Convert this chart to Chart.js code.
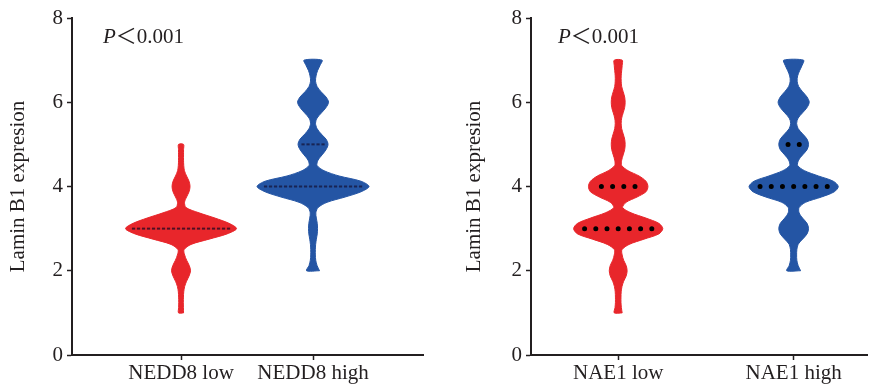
<!DOCTYPE html>
<html>
<head>
<meta charset="utf-8">
<script src="https://cdn.jsdelivr.net/npm/chart.js@4/dist/chart.umd.min.js"></script>
<style>
  html, body { margin: 0; padding: 0; background: #fff; }
  #wrap { position: relative; width: 873px; height: 390px; }
  .box { position: absolute; top: 0; height: 390px; }
</style>
</head>
<body>
<div id="wrap">
  <div class="box" style="left:0;width:440px"><canvas id="chartA"></canvas></div>
  <div class="box" style="left:440px;width:433px"><canvas id="chartB"></canvas></div>
</div>
<script>
// categories and ticks
const categoriesA = ['NEDD8 low', 'NEDD8 high'];
const categoriesB = ['NAE1 low', 'NAE1 high'];
const yTicks = [0, 2, 4, 6, 8];
const yTitle = 'Lamin B1 expresion';

// violin densities (half width), one value every 0.125 from the lowest value
const step = 0.125;
const nedd8LowFrom = 1;
const nedd8Low = [2.5, 2.4, 2.3, 2.4, 2.7, 3.6, 5.5, 8, 9.5, 8.2, 5.6, 3.6, 3,
  10, 28, 46, 55.5, 48, 34, 18, 5, 3.5, 5.5, 8, 9, 8, 5.5, 3.4, 2.7,
  2.5, 2.5, 2.5, 2.5];
const nedd8HighFrom = 2;
const nedd8High = [6.5, 4, 2.7, 2.3, 2.3, 2.6, 3.3, 4.2, 4.5, 4.2, 3.3, 2.8, 5,
  14, 32, 48, 56, 48, 26, 11, 4, 5, 9, 13, 15, 13, 8, 4, 2.5,
  4, 8.5, 13, 15.5, 13, 8, 4, 2.5, 3, 4.5, 7, 9];
const nae1LowFrom = 1;
const nae1Low = [4, 3.2, 2.8, 2.8, 3, 3.8, 5.5, 8, 9, 8, 5.5, 4, 3.8,
  11, 26, 41, 45, 41, 28, 13, 4.5, 8, 19, 28, 30, 28, 21, 10, 3.5,
  3.5, 5, 6.5, 7, 6.5, 5, 3.5, 3, 3.5, 5, 6.5, 7, 6.5, 5, 3.5, 3,
  3, 3.5, 4, 4];
const nae1HighFrom = 2;
const nae1High = [7, 4.5, 3.2, 3, 3.2, 4.5, 9, 13.5, 15, 13.5, 9, 5.5, 5.5,
  12, 28, 41, 45, 40, 25, 11, 4, 5, 9, 13.5, 15, 13.5, 9, 4.5, 3,
  4.5, 9, 13.5, 15.7, 13.5, 9, 5, 3.5, 4, 6, 8.5, 10];

// stacked sample points
const nedd8LowDotValues = [3];
const nedd8LowDotCounts = [20];
const nedd8HighDotValues = [4, 5];
const nedd8HighDotCounts = [20, 5];
const nae1LowDotValues = [3, 4];
const nae1LowDotCounts = [7, 4];
const nae1HighDotValues = [4, 5];
const nae1HighDotCounts = [7, 2];

const red = '#e8262b';
const blue = '#2455a4';
const ink = '#231f20';
const serif = '"Liberation Serif", "Times New Roman", serif';

function violinPoints(dens, from, center, k) {
  const right = dens.map((d, i) => ({ x: center + d * k, y: from + i * step }));
  const left = dens.map((d, i) => ({ x: center - d * k, y: from + i * step })).reverse();
  return right.concat(left, [right[0]]);
}

function dotPoints(values, counts, center, gap) {
  const pts = [];
  values.forEach((v, i) => {
    const n = counts[i];
    for (let j = 0; j < n; j++) {
      pts.push({ x: center + (j - (n - 1) / 2) * gap, y: v });
    }
  });
  return pts;
}

const pLabel = {
  id: 'pLabel',
  afterDraw(chart, args, opts) {
    const ctx = chart.ctx;
    const x = chart.chartArea.left + opts.dx;
    ctx.save();
    ctx.fillStyle = ink;
    ctx.textBaseline = 'alphabetic';
    ctx.font = 'italic 21px ' + serif;
    ctx.fillText('P', x, opts.y);
    const w = ctx.measureText('P').width;
    ctx.font = '21px ' + serif + ', "Noto Sans CJK SC"';
    ctx.fillText('＜0.001', x + w, opts.y);
    ctx.restore();
  }
};

function violinSet(points, color) {
  return {
    data: points, showLine: true, fill: 'shape',
    backgroundColor: color, borderColor: color, borderWidth: 1,
    tension: 0.3, pointRadius: 0, order: 2
  };
}

function dotSet(points, style, radius, color) {
  return {
    data: points, showLine: false, pointStyle: style, pointRadius: radius,
    pointBorderWidth: 2, pointBackgroundColor: color, pointBorderColor: color, order: 1
  };
}

function makeChart(id, cats, datasets, xMin, xMax, axisWidth, titlePad, padRight, pdx) {
  const font = { family: serif, size: 21 };
  return new Chart(document.getElementById(id), {
    type: 'scatter',
    data: { datasets: datasets },
    options: {
      responsive: true,
      maintainAspectRatio: false,
      animation: false,
      layout: { padding: { top: 18, right: padRight, left: 0, bottom: 0 } },
      plugins: {
        legend: { display: false },
        tooltip: { enabled: false },
        pLabel: { dx: pdx, y: 43 }
      },
      scales: {
        x: {
          type: 'linear', min: xMin, max: xMax,
          afterBuildTicks: s => { s.ticks = [{ value: 1 }, { value: 2 }]; },
          ticks: { callback: v => cats[v - 1], font: font, color: ink, padding: 1, maxRotation: 0, autoSkip: false },
          grid: { drawOnChartArea: false, tickLength: 5, tickColor: ink, tickWidth: 1.5 },
          border: { color: ink, width: 2 },
          afterFit: s => { s.height = 35; }
        },
        y: {
          min: 0, max: 8,
          afterBuildTicks: s => { s.ticks = yTicks.map(v => ({ value: v })); },
          ticks: { font: font, color: ink, padding: 4 },
          grid: { drawOnChartArea: false, tickLength: 5, tickColor: ink, tickWidth: 1.5 },
          border: { color: ink, width: 2 },
          title: { display: true, text: yTitle, font: font, color: ink, padding: { top: titlePad, bottom: 0 } },
          afterFit: s => { s.width = axisWidth; }
        }
      }
    },
    plugins: [pLabel]
  });
}

const kA = 1 / 132, kB = 1 / 177;
const gapA = 5 / 132, gapB = 11.3 / 177;

makeChart('chartA', categoriesA, [
  dotSet(dotPoints(nedd8LowDotValues, nedd8LowDotCounts, 1, gapA), 'line', 1.6, 'rgba(30,10,35,0.75)'),
  dotSet(dotPoints(nedd8HighDotValues, nedd8HighDotCounts, 2, gapA), 'line', 1.6, 'rgba(20,15,50,0.7)'),
  violinSet(violinPoints(nedd8Low, nedd8LowFrom, 1, kA), red),
  violinSet(violinPoints(nedd8High, nedd8HighFrom, 2, kA), blue)
], 0.174, 2.833, 72, 6, 17, 31);

makeChart('chartB', categoriesB, [
  dotSet(dotPoints(nae1LowDotValues, nae1LowDotCounts, 1, gapB), 'circle', 1.5, '#000'),
  dotSet(dotPoints(nae1HighDotValues, nae1HighDotCounts, 2, gapB), 'circle', 1.5, '#000'),
  violinSet(violinPoints(nae1Low, nae1LowFrom, 1, kB), red),
  violinSet(violinPoints(nae1High, nae1HighFrom, 2, kB), blue)
], 0.503, 2.418, 91, 22, 3, 27);
</script>
</body>
</html>
